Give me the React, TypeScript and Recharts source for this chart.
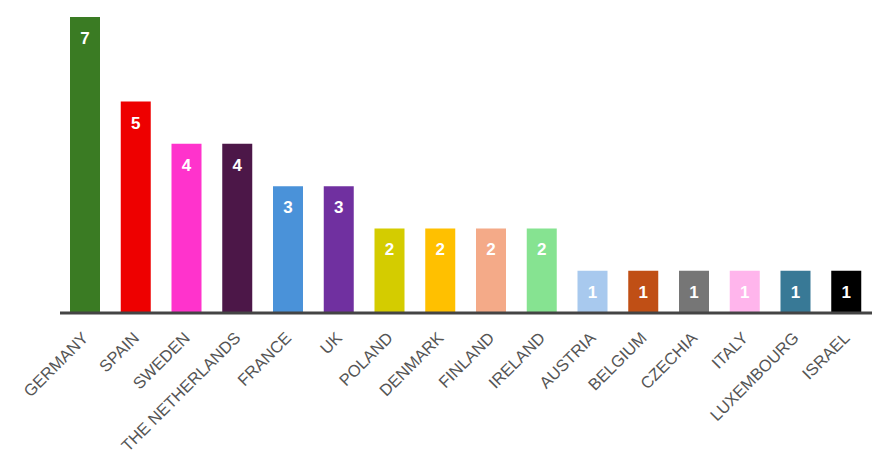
import React from "react";
import { BarChart, Bar, XAxis, YAxis, Cell, LabelList } from "recharts";

const countries = ["GERMANY","SPAIN","SWEDEN","THE NETHERLANDS","FRANCE","UK","POLAND","DENMARK","FINLAND","IRELAND","AUSTRIA","BELGIUM","CZECHIA","ITALY","LUXEMBOURG","ISRAEL"];
const counts = [7,5,4,4,3,3,2,2,2,2,1,1,1,1,1,1];
const colors = ["#3a7b23","#ee0000","#ff33cc","#4c1748","#4a92d9","#7030a0","#d4cc00","#ffc000","#f4aa88","#86e391","#a8c9ee","#c04f15","#767676","#ffb5ec","#387996","#000000"];

const data = countries.map((c, i) => ({ name: c, value: counts[i] }));

const FONT = "'Liberation Sans', Arial, sans-serif";

const Tick = (props: any) => {
  const { x, y, payload } = props;
  return (
    <g transform={`translate(${x + 4},${y + 18})`}>
      <text transform="rotate(-45)" textAnchor="end" fill="#555" fontSize={16.5} fontFamily={FONT}>
        {payload.value}
      </text>
    </g>
  );
};

export default function App() {
  return (
    <div style={{ position: "absolute", left: 0, top: 0 }}>
      <BarChart width={895} height={468} data={data} margin={{ top: 17, right: 23, left: 60, bottom: 0 }}>
        <YAxis hide domain={[0, 7]} />
        <XAxis
          dataKey="name"
          interval={0}
          height={155}
          tickLine={false}
          axisLine={{ stroke: "#444", strokeWidth: 3 }}
          tick={<Tick />}
        />
        <Bar dataKey="value" barSize={30} isAnimationActive={false}>
          {data.map((d, i) => (
            <Cell key={d.name} fill={colors[i]} />
          ))}
          <LabelList dataKey="value" position="insideTop" offset={15} fill="#fff" fontSize={17} fontWeight="bold" fontFamily={FONT} />
        </Bar>
      </BarChart>
    </div>
  );
}
